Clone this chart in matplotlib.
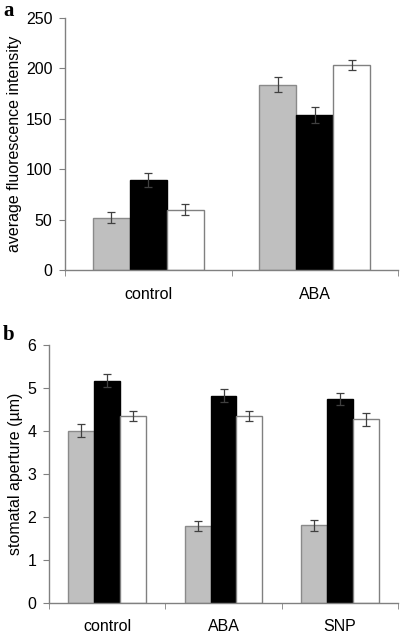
import numpy as np
import matplotlib
matplotlib.use('Agg')
import matplotlib.pyplot as plt

plt.rcParams['font.family'] = ['Liberation Sans', 'DejaVu Sans']

# panel a data
cats_a = ['control', 'ABA']
a_gray = [52, 184]
a_black = [89, 154]
a_white = [60, 203]
a_gray_err = [5.5, 7.5]
a_black_err = [7, 8]
a_white_err = [5.5, 5]

# panel b data
cats_b = ['control', 'ABA', 'SNP']
b_gray = [4.0, 1.78, 1.80]
b_black = [5.17, 4.82, 4.74]
b_white = [4.35, 4.35, 4.27]
b_gray_err = [0.15, 0.12, 0.12]
b_black_err = [0.15, 0.15, 0.13]
b_white_err = [0.12, 0.12, 0.15]

fills = ['#bfbfbf', 'black', 'white']
edges = ['#8a8a8a', 'black', '#808080']
ecol = '#404040'
spine_col = '#808080'

fig = plt.figure(figsize=(4, 6.34), dpi=100)
ax_a = fig.add_axes([0.1625, 0.574, 0.8325, 0.3976])
ax_b = fig.add_axes([0.1225, 0.0494, 0.8725, 0.4066])


def draw(ax, cats, series, errs, ymax, ystep, ylabel):
    x = np.arange(len(cats))
    w = 0.223
    for i, (vals, err) in enumerate(zip(series, errs)):
        ax.bar(x + (i - 1) * w, vals, w, color=fills[i], edgecolor=edges[i],
               linewidth=1.0, zorder=2)
        ax.errorbar(x + (i - 1) * w, vals, yerr=err, fmt='none', ecolor=ecol,
                    elinewidth=0.9, capsize=3, capthick=0.9, zorder=3)
    ax.set_xlim(-0.5, len(cats) - 0.5)
    ax.set_ylim(0, ymax)
    ax.set_yticks(np.arange(0, ymax + ystep / 2, ystep))
    ax.set_xticks(x)
    ax.set_xticklabels(cats, fontsize=11.5)
    ax.set_xticks(np.arange(len(cats) + 1) - 0.5, minor=True)
    ax.tick_params(axis='x', which='major', length=0, pad=12)
    ax.tick_params(axis='x', which='minor', length=4, color=spine_col, direction='out')
    ax.tick_params(axis='y', length=4, color=spine_col, labelsize=11.5, pad=5)
    for s in ['top', 'right']:
        ax.spines[s].set_visible(False)
    for s in ['left', 'bottom']:
        ax.spines[s].set_color(spine_col)
        ax.spines[s].set_linewidth(1.0)
    ax.set_ylabel(ylabel, fontsize=11.5, labelpad=3)


draw(ax_a, cats_a, [a_gray, a_black, a_white], [a_gray_err, a_black_err, a_white_err],
     250, 50, 'average fluorescence intensity')
draw(ax_b, cats_b, [b_gray, b_black, b_white], [b_gray_err, b_black_err, b_white_err],
     6, 1, 'stomatal aperture (µm)')

fig.text(0.008, 0.998, 'a', fontsize=15, fontweight='bold',
         family=['Liberation Serif', 'DejaVu Serif'], va='top', ha='left')
fig.text(0.008, 0.487, 'b', fontsize=15, fontweight='bold',
         family=['Liberation Serif', 'DejaVu Serif'], va='top', ha='left')

fig.savefig('out.png', dpi=100)
